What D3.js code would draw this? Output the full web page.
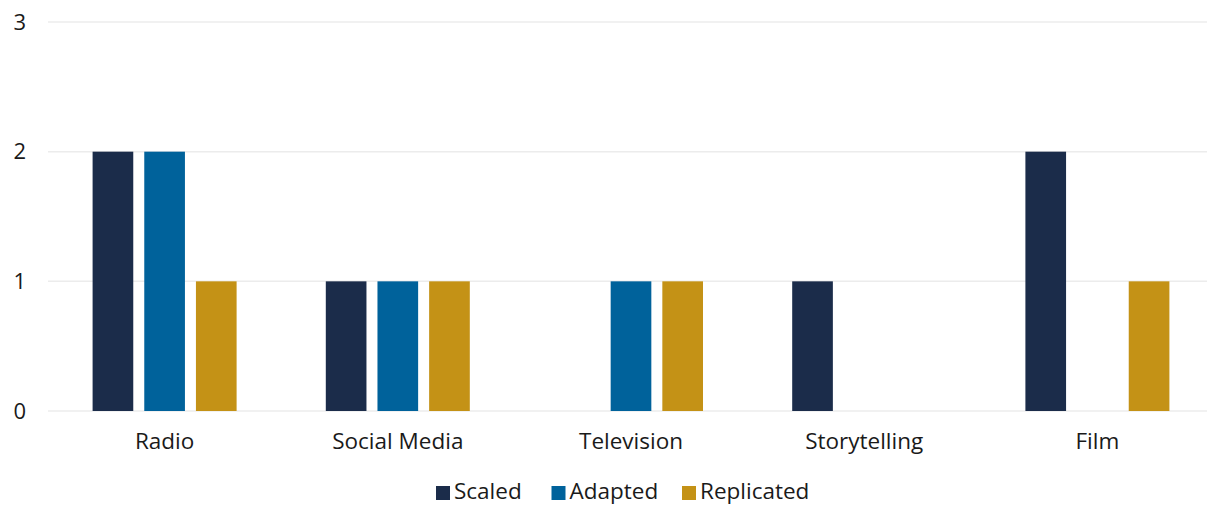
<!DOCTYPE html>
<html>
<head>
<meta charset="utf-8">
<script src="https://cdn.jsdelivr.net/npm/d3@7"></script>
<style>
  body { margin: 0; background: #fff; }
  text { font-family: "Open Sans", "Noto Sans", sans-serif; fill: #1a1a1a; }
</style>
</head>
<body>
<div class="chart"></div>
<script>
const categories = ['Radio', 'Social Media', 'Television', 'Storytelling', 'Film']
const seriesNames = ['Scaled', 'Adapted', 'Replicated']
const scaled = [2, 1, 0, 1, 2]
const adapted = [2, 1, 1, 0, 0]
const replicated = [1, 1, 1, 0, 1]
const yTicks = [0, 1, 2, 3]
const colors = ['#1b2c4a', '#00629b', '#c49216']

const values = [scaled, adapted, replicated]
const data = categories.map((c, i) => ({
    cat: c,
    vals: seriesNames.map((s, j) => ({ series: s, value: values[j][i] }))
}))

const width = 1207
const height = 506
const svg = d3.select('.chart').append('svg').attr('width', width).attr('height', height)

const x0 = d3.scaleBand().domain(categories).range([48, 1214]).paddingInner(0.3825).paddingOuter(0.19125)
const x1 = d3.scaleBand().domain(seriesNames).range([0, x0.bandwidth()]).paddingInner(0.213)
const y = d3.scaleLinear().domain([0, 3]).range([411, 22])
const color = d3.scaleOrdinal().domain(seriesNames).range(colors)

// gridlines
svg.selectAll('line.grid')
    .data(yTicks)
    .enter()
    .append('line')
    .attr('x1', 48)
    .attr('x2', width)
    .attr('y1', d => y(d))
    .attr('y2', d => y(d))
    .attr('stroke', '#ececec')
    .attr('stroke-width', 1.5)

// y labels
svg.selectAll('text.ylab')
    .data(yTicks)
    .enter()
    .append('text')
    .attr('x', 26)
    .attr('y', d => y(d))
    .attr('dy', '0.35em')
    .attr('text-anchor', 'end')
    .attr('font-size', 22)
    .text(d => d)

// bars
const groups = svg.selectAll('g.group')
    .data(data)
    .enter()
    .append('g')
    .attr('transform', d => `translate(${x0(d.cat)},0)`)

groups.selectAll('rect')
    .data(d => d.vals.filter(v => v.value > 0))
    .enter()
    .append('rect')
    .attr('x', d => x1(d.series))
    .attr('width', x1.bandwidth())
    .attr('y', d => y(d.value))
    .attr('height', d => y(0) - y(d.value))
    .attr('fill', d => color(d.series))

// category labels
svg.selectAll('text.cat')
    .data(categories)
    .enter()
    .append('text')
    .attr('x', d => x0(d) + x0.bandwidth() / 2)
    .attr('y', 449)
    .attr('text-anchor', 'middle')
    .attr('font-size', 22.5)
    .text(d => d)

// legend
const legendX = [436, 551.5, 682]
const legend = svg.selectAll('g.legend')
    .data(seriesNames)
    .enter()
    .append('g')
    .attr('transform', (d, i) => `translate(${legendX[i]},486)`)
legend.append('rect')
    .attr('width', 14)
    .attr('height', 14)
    .attr('fill', d => color(d))
legend.append('text')
    .attr('x', 18)
    .attr('y', 13)
    .attr('font-size', 22.5)
    .text(d => d)
</script>
</body>
</html>
